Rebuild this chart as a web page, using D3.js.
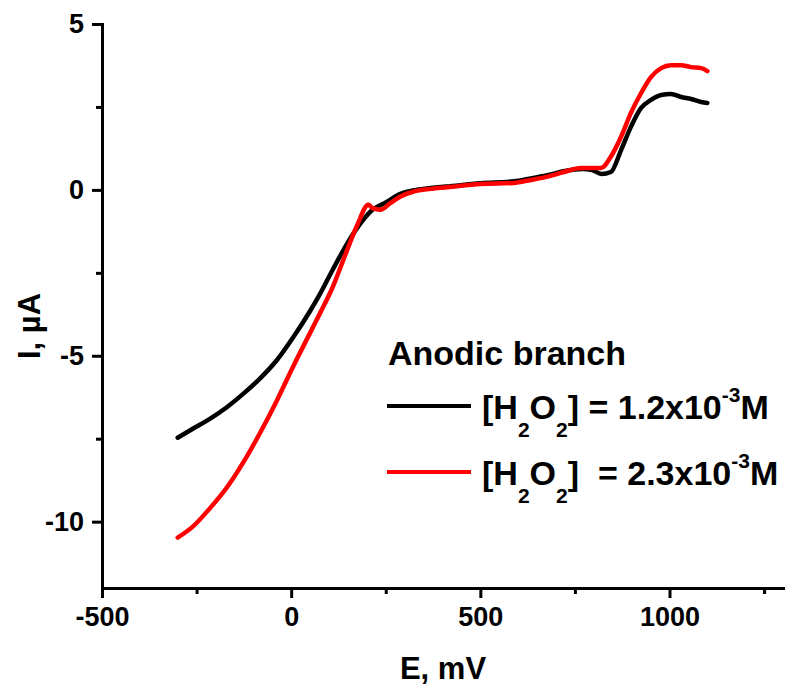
<!DOCTYPE html>
<html>
<head>
<meta charset="utf-8">
<script src="https://cdn.jsdelivr.net/npm/d3@7/dist/d3.min.js"></script>
<style>
body { margin: 0; background: #fff; }
svg text { font-family: "Liberation Sans", Arial, sans-serif; font-weight: bold; fill: #000; }
</style>
</head>
<body>
<div id="chart"></div>
<script>
// potential (mV) and current (uA)
var potLow = [-300, -260, -215, -170, -127, -82, -37, 5, 50, 77, 100, 130, 170, 215, 250, 289, 330, 370, 410, 500, 590, 630, 680, 720, 770, 795, 820, 845, 872, 898, 925, 951, 978, 1004, 1031, 1057, 1084, 1100];
var curLow = [-7.47, -7.2, -6.9, -6.55, -6.15, -5.68, -5.12, -4.45, -3.65, -3.12, -2.62, -1.98, -1.22, -0.6, -0.38, -0.12, 0.0, 0.06, 0.1, 0.2, 0.26, 0.34, 0.45, 0.56, 0.63, 0.6, 0.48, 0.54, 1.2, 1.9, 2.47, 2.71, 2.86, 2.89, 2.8, 2.74, 2.65, 2.62];

var potHigh = [-300, -260, -215, -170, -127, -82, -37, 5, 50, 77, 109, 143, 175, 204, 215, 236, 262, 289, 324, 368, 413, 501, 588, 633, 678, 721, 766, 792, 819, 845, 872, 898, 925, 951, 978, 1004, 1031, 1057, 1084, 1100];
var curHigh = [-10.48, -10.15, -9.6, -8.97, -8.22, -7.32, -6.33, -5.33, -4.31, -3.7, -2.95, -1.96, -1.05, -0.45, -0.55, -0.6, -0.4, -0.2, -0.05, 0.03, 0.08, 0.18, 0.21, 0.3, 0.4, 0.54, 0.66, 0.66, 0.66, 1.0, 1.6, 2.32, 2.92, 3.4, 3.67, 3.76, 3.76, 3.7, 3.67, 3.58];

var seriesConc = ['1.2', '2.3'];
var seriesColor = ['#000000', '#ff0000'];
var seriesGap = [' ', '  '];

var xMajor = [-500, 0, 500, 1000];
var xMinor = [-250, 250, 750, 1250];
var yMajor = [5, 0, -5, -10];
var yMinor = [2.5, -2.5, -7.5];

var margin = {top: 24, left: 102};
var fullWidth = 790, fullHeight = 687;
var width = 681, height = 564;

var root = d3.select('#chart').append('svg')
  .attr('width', fullWidth)
  .attr('height', fullHeight);

var svg = root.append('g')
  .attr('transform', 'translate(' + margin.left + ',' + margin.top + ')');

var x = d3.scaleLinear().domain([-500, 1300]).range([0, width]);
var y = d3.scaleLinear().domain([-12, 5]).range([height, 0]);

// axes: major ticks with labels, then minor ticks
svg.append('g')
  .attr('transform', 'translate(0,' + height + ')')
  .call(d3.axisBottom(x).tickValues(xMajor).tickSize(10).tickSizeOuter(0).tickPadding(9)
    .tickFormat(function(d) { return String(d); }));
svg.append('g')
  .attr('transform', 'translate(0,' + height + ')')
  .call(d3.axisBottom(x).tickValues(xMinor).tickSize(6).tickFormat(''))
  .select('.domain').remove();

svg.append('g')
  .call(d3.axisLeft(y).tickValues(yMajor).tickSize(10).tickSizeOuter(0).tickPadding(8)
    .tickFormat(function(d) { return String(d); }));
svg.append('g')
  .call(d3.axisLeft(y).tickValues(yMinor).tickSize(6).tickFormat(''))
  .select('.domain').remove();

svg.selectAll('.domain').attr('stroke-width', 3).attr('stroke-linecap', 'square');
svg.selectAll('.tick line').attr('stroke-width', 3);
svg.selectAll('.tick text').style('font-size', '27px').style('font-family', '"Liberation Sans", Arial, sans-serif').style('font-weight', 'bold');

// axis titles
root.append('text')
  .attr('x', 443).attr('y', 679)
  .style('text-anchor', 'middle')
  .style('font-size', '31px')
  .text('E, mV');

root.append('text')
  .attr('transform', 'translate(40,326)rotate(-90)')
  .style('text-anchor', 'middle')
  .style('font-size', '31px')
  .text('I, \u00b5A');

// curves
var line = d3.line()
  .x(function(d) { return x(d[0]); })
  .y(function(d) { return y(d[1]); })
  .curve(d3.curveMonotoneX);

var seriesData = [d3.zip(potLow, curLow), d3.zip(potHigh, curHigh)];

svg.selectAll('path.curve')
  .data(seriesData)
  .enter().append('path')
    .attr('class', 'curve')
    .attr('d', line)
    .attr('fill', 'none')
    .attr('stroke', function(d, i) { return seriesColor[i]; })
    .attr('stroke-width', 4.5)
    .attr('stroke-linejoin', 'round')
    .attr('stroke-linecap', 'round');

// legend
root.append('text')
  .attr('x', 388).attr('y', 365)
  .style('font-size', '34px')
  .text('Anodic branch');

var legendRows = [419, 485];
seriesConc.forEach(function(c, i) {
  var yb = legendRows[i];
  root.append('line')
    .attr('x1', 387).attr('x2', 471)
    .attr('y1', yb - 13).attr('y2', yb - 13)
    .attr('stroke', seriesColor[i])
    .attr('stroke-width', 4);
  var t = root.append('text')
    .attr('x', 482).attr('y', yb)
    .style('font-size', '34px')
    .style('white-space', 'pre');
  t.append('tspan').text('[H');
  t.append('tspan').attr('dy', 18).style('font-size', '21px').text('2');
  t.append('tspan').attr('dy', -18).text('O');
  t.append('tspan').attr('dy', 18).style('font-size', '21px').text('2');
  t.append('tspan').attr('dy', -18).text(']' + seriesGap[i] + '= ' + c + 'x10');
  t.append('tspan').attr('dy', -17).style('font-size', '21px').text('-3');
  t.append('tspan').attr('dy', 17).text('M');
});
</script>
</body>
</html>
